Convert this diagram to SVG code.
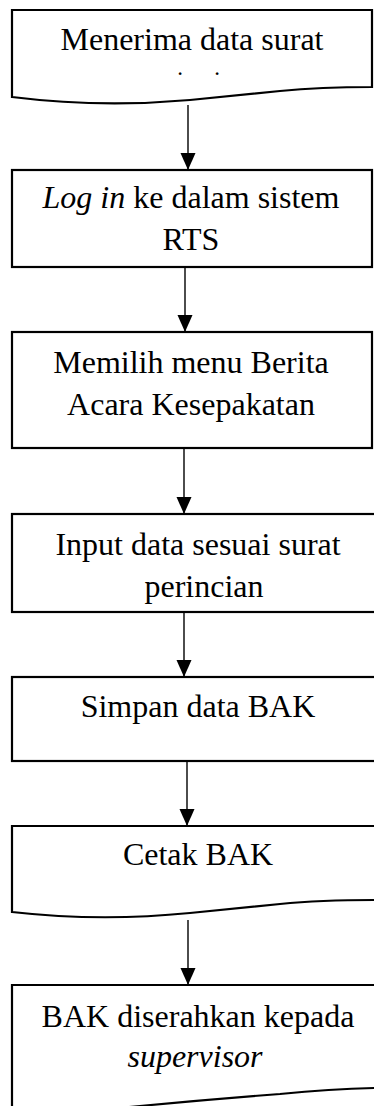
<svg xmlns="http://www.w3.org/2000/svg" width="374" height="1106" viewBox="0 0 374 1106">
  <style>
    .box { fill: #ffffff; stroke: #000000; stroke-width: 2.2; }
    .lbl { font-family: "Liberation Serif", "Times New Roman", serif; font-size: 32px; fill: #000000; text-anchor: middle; }
    .dots { font-family: "Liberation Serif", "Times New Roman", serif; font-size: 23px; fill: #000000; text-anchor: middle; }
    .it { font-style: italic; }
    .conn { stroke: #000000; stroke-width: 1.4; fill: none; marker-end: url(#arrow); }
  </style>
  <defs>
    <marker id="arrow" markerUnits="userSpaceOnUse" markerWidth="17" markerHeight="16" refX="17" refY="7.5" orient="auto">
      <path d="M0,0 L17,7.5 L0,15 z" fill="#000000"/>
    </marker>
  </defs>
  <rect width="374" height="1106" fill="#ffffff"/>

  <!-- document: incoming letter -->
  <g id="terima-surat">
    <path class="box" d="M12,97 V10 H372 V87 C 330,87 300,89 280,91 Q 240,95 190,100 Q 100,108 12,97 Z"/>
    <text class="lbl" x="192" y="50">Menerima data surat</text>
    <text class="dots" y="75"><tspan x="180">.</tspan><tspan x="217">.</tspan></text>
  </g>

  <g id="login">
    <rect class="box" x="12" y="170" width="360" height="97"/>
    <text class="lbl" x="191" y="208"><tspan class="it">Log in</tspan> ke dalam sistem</text>
    <text class="lbl" x="191" y="250">RTS</text>
  </g>

  <g id="pilih-menu">
    <rect class="box" x="12" y="332" width="360" height="116"/>
    <text class="lbl" x="191" y="373">Memilih menu Berita</text>
    <text class="lbl" x="191" y="415">Acara Kesepakatan</text>
  </g>

  <g id="input-data">
    <rect class="box" x="12" y="514" width="378" height="98"/>
    <text class="lbl" x="198" y="555">Input data sesuai surat</text>
    <text class="lbl" x="204" y="597">perincian</text>
  </g>

  <g id="simpan">
    <rect class="box" x="12" y="677" width="378" height="84"/>
    <text class="lbl" x="198" y="717">Simpan data BAK</text>
  </g>

  <!-- document: printed BAK -->
  <g id="cetak">
    <path class="box" d="M12,912 V826 H390 V900 L374,900 C 330,900 300,902 280,904 Q 240,908 190,913 Q 100,922 12,912 Z"/>
    <text class="lbl" x="198" y="865">Cetak BAK</text>
  </g>

  <!-- document: handed to supervisor -->
  <g id="serahkan">
    <path class="box" d="M12,1112 V985 H390 V1088 L374,1088 C 330,1089 300,1092 280,1094 Q 200,1100 120,1108 Q 60,1114 12,1112 Z"/>
    <text class="lbl" x="198" y="1027">BAK diserahkan kepada</text>
    <text class="lbl it" x="195" y="1067">supervisor</text>
  </g>

  <g id="connectors">
    <line class="conn" x1="188" y1="105" x2="188" y2="170"/>
    <line class="conn" x1="185" y1="267" x2="185" y2="332"/>
    <line class="conn" x1="184" y1="448" x2="184" y2="514"/>
    <line class="conn" x1="184" y1="612" x2="184" y2="677"/>
    <line class="conn" x1="187" y1="761" x2="187" y2="826"/>
    <line class="conn" x1="188" y1="920" x2="188" y2="985"/>
  </g>
</svg>
